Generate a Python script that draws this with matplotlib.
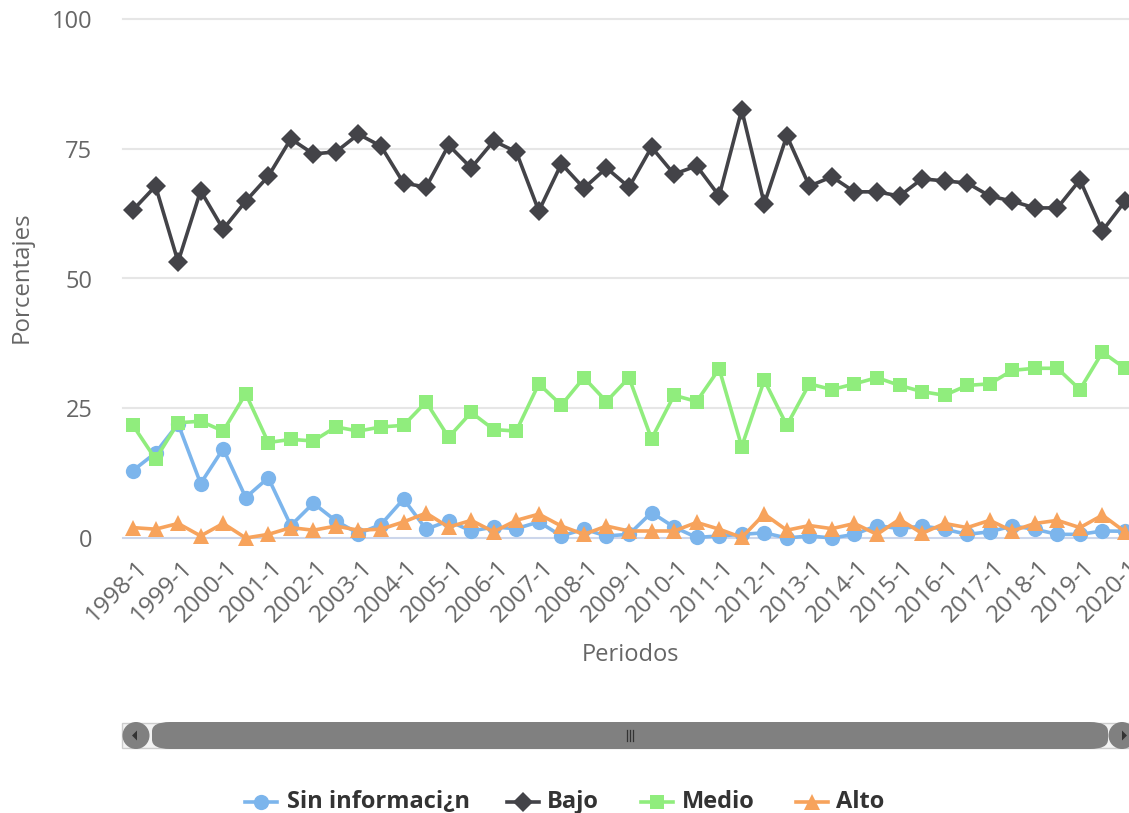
import matplotlib
matplotlib.use("Agg")
import matplotlib.pyplot as plt
import matplotlib.transforms as mtransforms
from matplotlib.lines import Line2D
from matplotlib.patches import FancyBboxPatch, Polygon, Rectangle, Ellipse

years = list(range(1998, 2021))
periods = []
for y in years:
    periods.append(f"{y}-1")
    if y < 2020:
        periods.append(f"{y}-2")
year_labels = [f"{y}-1" for y in years]

sin_info = [13.0, 16.4, 22.0, 10.5, 17.2, 7.8, 11.6, 2.4, 6.7, 3.3, 0.85, 2.6, 7.5, 1.7,
            3.3, 1.35, 2.1, 1.8, 3.1, 0.4, 1.7, 0.4, 0.7, 4.9, 2.1, 0.1, 0.4, 0.7, 1.0,
            0.0, 0.4, 0.0, 0.7, 2.4, 1.8, 2.3, 1.7, 0.7, 1.2, 2.3, 1.7, 0.7, 0.7, 1.35, 1.3]
bajo = [63.2, 67.8, 53.2, 66.9, 59.5, 64.9, 69.7, 76.9, 74.0, 74.4, 77.8, 75.5, 68.4, 67.6,
        75.7, 71.3, 76.5, 74.4, 63.0, 72.1, 67.4, 71.3, 67.6, 75.3, 70.1, 71.7, 65.9, 82.5,
        64.4, 77.5, 67.8, 69.6, 66.7, 66.7, 65.9, 69.2, 68.8, 68.4, 65.9, 64.9, 63.6, 63.6,
        69.0, 59.2, 64.9]
medio = [21.7, 15.2, 22.2, 22.5, 20.6, 27.8, 18.4, 19.0, 18.7, 21.4, 20.6, 21.4, 21.7, 26.2,
         19.4, 24.2, 20.9, 20.6, 29.7, 25.6, 30.9, 26.3, 30.9, 19.1, 27.5, 26.3, 32.6, 17.6,
         30.4, 21.7, 29.7, 28.6, 29.7, 30.9, 29.4, 28.2, 27.5, 29.4, 29.7, 32.3, 32.7, 32.7,
         28.6, 35.8, 32.7]
alto = [2.0, 1.7, 2.8, 0.4, 2.8, 0.0, 0.7, 2.0, 1.5, 2.3, 1.5, 1.7, 3.1, 4.8,
        2.1, 3.4, 1.2, 3.4, 4.6, 2.3, 0.7, 2.3, 1.35, 1.35, 1.35, 3.0, 1.7, 0.1,
        4.6, 1.5, 2.4, 1.8, 2.8, 0.7, 3.6, 0.9, 2.8, 2.0, 3.4, 1.35, 2.8, 3.4,
        2.0, 4.4, 1.2]

series_names = ["Sin informaci¿n", "Bajo", "Medio", "Alto"]
colors = ["#7cb5ec", "#434348", "#90ed7d", "#f7a35c"]
markers = ["o", "D", "s", "^"]
msizes = [11, 10, 10.5, 11]

W, H = 1129, 813
plt.rcParams['font.family'] = ['Open Sans', 'DejaVu Sans']
fig = plt.figure(figsize=(W / 100, H / 100), dpi=100)

def fx(px):
    return px / W

def fy(py):
    return 1 - py / H

left, right, top, bottom = 123, 1129, 19, 538
ax = fig.add_axes([fx(left), fy(bottom), fx(right) - fx(left), fy(top) - fy(bottom)])

x = list(range(len(periods)))
for vals, c, m, ms in zip([sin_info, bajo, medio, alto], colors, markers, msizes):
    ax.plot(x, vals, color=c, marker=m, markersize=ms, linewidth=2.6,
            markeredgewidth=0, clip_on=False)

step = (1125 - 133) / 44.0
ax.set_xlim(-(133 - left) / step, 44 + (right - 1125) / step)
ax.set_ylim(0, 100)

ax.set_yticks([0, 25, 50, 75, 100])
ax.set_yticklabels(["0", "25", "50", "75", "100"])
ax.set_xticks(list(range(0, len(periods), 2)))
ax.set_xticklabels(year_labels, rotation=45, ha='right', va='center', rotation_mode='anchor')
ax.tick_params(axis='y', length=0, pad=22, labelsize=17, labelcolor='#666666')
ax.tick_params(axis='x', length=0, pad=14, labelsize=17.5, labelcolor='#666666')
offset = mtransforms.ScaledTranslation(11 / 100, -7 / 100, fig.dpi_scale_trans)
for lab in ax.get_xticklabels():
    lab.set_transform(lab.get_transform() + offset)

for s in ['top', 'right', 'left']:
    ax.spines[s].set_visible(False)
ax.spines['bottom'].set_color('#ccd6eb')
ax.spines['bottom'].set_linewidth(1.5)
ax.spines['bottom'].set_zorder(0.5)
for v in [25, 50, 75, 100]:
    ax.axhline(v, color='#e6e6e6', linewidth=1.5, zorder=0, clip_on=False)

fig.text(fx(22), fy(277), "Porcentajes", rotation=90, ha='center', va='center',
         fontsize=17.3, color='#666666')
fig.text(fx(630), fy(655), "Periodos", ha='center', va='center',
         fontsize=17, color='#666666')

# Scrollbar
sy0, sy1 = 722, 749
track = Rectangle((fx(122), fy(sy1 - 1)), fx(1129) - fx(122), fy(sy0 + 1) - fy(sy1 - 1),
                  facecolor='#f2f2f2', edgecolor='#cccccc', linewidth=1, transform=fig.transFigure)
fig.add_artist(track)
thumb = FancyBboxPatch((fx(152), fy(sy1)), fx(1108) - fx(152), fy(sy0) - fy(sy1),
                       boxstyle="round,pad=0,rounding_size=0.016",
                       facecolor='#808080', edgecolor='none', transform=fig.transFigure,
                       mutation_aspect=H / W)
fig.add_artist(thumb)
for cxp in [136, 1122]:
    e = Ellipse((fx(cxp), fy(735.5)), (sy1 - sy0) / W, (sy1 - sy0) / H,
                facecolor='#808080', edgecolor='none', transform=fig.transFigure)
    fig.add_artist(e)
fig.add_artist(Polygon([[fx(132), fy(735.5)], [fx(137), fy(730.5)], [fx(137), fy(740.5)]],
                       closed=True, facecolor='#333333', edgecolor='none', transform=fig.transFigure))
fig.add_artist(Polygon([[fx(1127), fy(735.5)], [fx(1122), fy(730.5)], [fx(1122), fy(740.5)]],
                       closed=True, facecolor='#333333', edgecolor='none', transform=fig.transFigure))
for gx in [626.5, 629.5, 632.5]:
    fig.add_artist(Line2D([fx(gx), fx(gx)], [fy(730), fy(741)], color='#333333', linewidth=0.9))

# Legend
leg_y = 802
leg_items = [(245, 277, 287), (507, 539, 547), (641, 673, 682), (796, 828, 836)]
for (x0, x1, tx), name, c, m, ms in zip(leg_items, series_names, colors, markers, msizes):
    fig.add_artist(Line2D([fx(x0), fx(x1)], [fy(leg_y), fy(leg_y)], color=c, linewidth=2.6))
    fig.add_artist(Line2D([fx((x0 + x1) / 2)], [fy(leg_y)], color=c, marker=m, markersize=ms,
                          markeredgewidth=0, linestyle='none'))
    fig.text(fx(tx), fy(leg_y), name, ha='left', va='center', fontsize=17,
             fontweight='bold', color='#333333')

fig.savefig("out.png", dpi=100)
